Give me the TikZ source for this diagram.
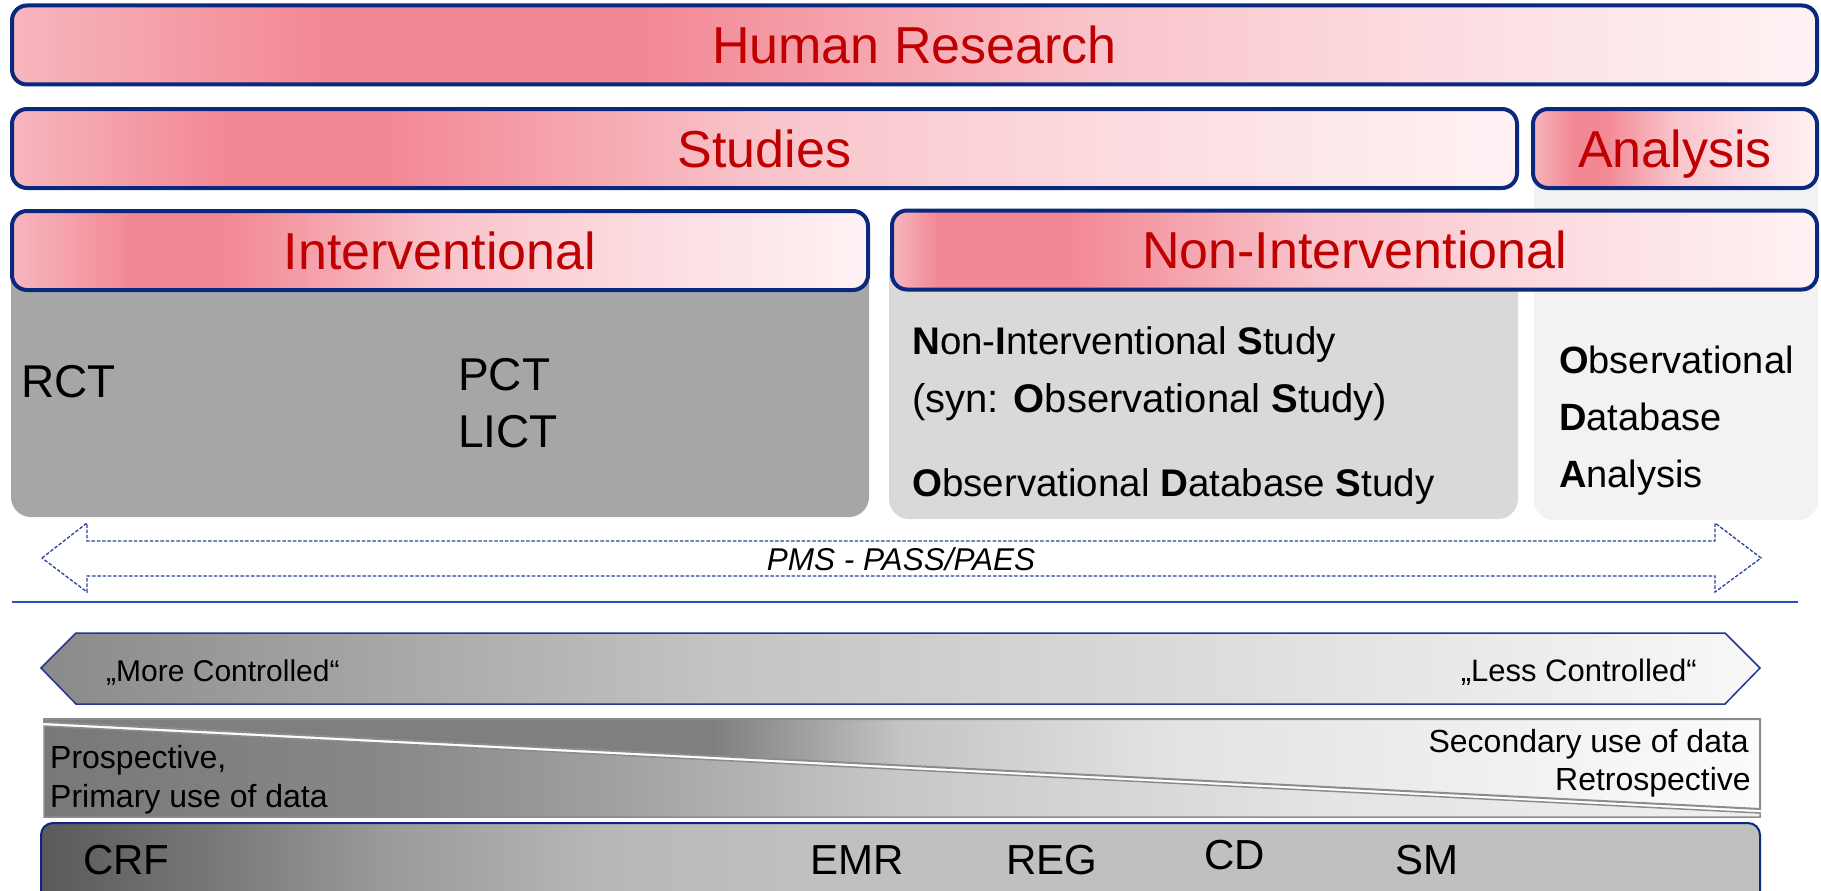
\documentclass[tikz,border=0pt]{standalone}
\usepackage{fontspec}
\setmainfont{Liberation Sans}
\definecolor{navy}{RGB}{10,40,125}
\definecolor{navytwo}{RGB}{30,55,150}
\definecolor{dashblue}{RGB}{40,65,160}
\definecolor{lineblue}{RGB}{40,80,190}
\definecolor{hred}{RGB}{192,0,0}
\definecolor{pkL}{RGB}{247,182,190}
\definecolor{pkP}{RGB}{242,136,148}
\definecolor{pkM}{RGB}{249,196,203}
\definecolor{pkN}{RGB}{252,222,226}
\definecolor{pkR}{RGB}{254,242,244}
\definecolor{gA}{RGB}{166,166,166}
\definecolor{gB}{RGB}{217,217,217}
\definecolor{gC}{RGB}{242,242,242}
\definecolor{cA}{RGB}{138,138,138}
\definecolor{cB}{RGB}{196,196,196}
\definecolor{cC}{RGB}{248,248,248}
\definecolor{uA}{RGB}{127,127,127}
\definecolor{uB}{RGB}{196,196,196}
\definecolor{uC}{RGB}{226,226,226}
\definecolor{uD}{RGB}{251,251,251}
\definecolor{lA}{RGB}{120,120,120}
\definecolor{lB}{RGB}{136,136,136}
\definecolor{lC}{RGB}{160,160,160}
\definecolor{lD}{RGB}{200,200,200}
\definecolor{lE}{RGB}{228,228,228}
\definecolor{lF}{RGB}{240,240,240}
\definecolor{bA}{RGB}{90,90,90}
\definecolor{bB}{RGB}{120,120,120}
\definecolor{bC}{RGB}{154,154,154}
\definecolor{bD}{RGB}{184,184,184}
\definecolor{bE}{RGB}{192,192,192}
\definecolor{edgegray}{RGB}{140,140,140}
\pgfdeclarehorizontalshading{pinkbar}{100bp}{color(0bp)=(pkL); color(25bp)=(pkL); color(32bp)=(pkP); color(37.5bp)=(pkP); color(50bp)=(pkM); color(63bp)=(pkN); color(75bp)=(pkR); color(100bp)=(pkR)}
\pgfdeclarehorizontalshading{pinkwide}{100bp}{color(0bp)=(pkL); color(25bp)=(pkL); color(33.5bp)=(pkP); color(42.5bp)=(pkP); color(55bp)=(pkM); color(65bp)=(pkN); color(75bp)=(pkR); color(100bp)=(pkR)}
\pgfdeclarehorizontalshading{pinkearly}{100bp}{color(0bp)=(pkL); color(25bp)=(pkL); color(27.5bp)=(pkP); color(34.5bp)=(pkP); color(48bp)=(pkM); color(62bp)=(pkN); color(75bp)=(pkR); color(100bp)=(pkR)}
\pgfdeclarehorizontalshading{ctrlsh}{100bp}{color(0bp)=(cA); color(25bp)=(cA); color(45bp)=(cB); color(75bp)=(cC); color(100bp)=(cC)}
\pgfdeclarehorizontalshading{upsh}{100bp}{color(0bp)=(uA); color(25bp)=(uA); color(44.5bp)=(uA); color(50bp)=(uB); color(57.5bp)=(uC); color(75bp)=(uD); color(100bp)=(uD)}
\pgfdeclarehorizontalshading{lowsh}{100bp}{color(0bp)=(lA); color(25bp)=(lA); color(35bp)=(lB); color(41.5bp)=(lC); color(50bp)=(lD); color(62.5bp)=(lE); color(75bp)=(lF); color(100bp)=(lF)}
\pgfdeclarehorizontalshading{btmsh}{100bp}{color(0bp)=(bA); color(25bp)=(bA); color(30bp)=(bB); color(35bp)=(bC); color(41.5bp)=(bD); color(47.5bp)=(bE); color(100bp)=(bE)}
\newcommand\myfs[1]{\fontsize{#1}{#1}\selectfont}
\begin{document}
\begin{tikzpicture}[x=1pt,y=-1pt,
  bar/.style={draw=navy, line width=4pt, rounded corners=15pt, shade, shading=pinkbar,
    minimum height=79pt, inner sep=0pt, text=hred, font=\myfs{52},
    text height=37.5pt, text depth=0pt},
  body/.style={rounded corners=20pt, inner sep=0pt},
  txt/.style={anchor=base west, inner sep=0pt, text=black},
  txtr/.style={anchor=base east, inner sep=0pt, text=black},
  pmsline/.style={draw=dashblue, line width=1.3pt, dash pattern=on 3.5pt off 1.8pt},
]
\fill[white] (0,0) rectangle (1821,891);
\useasboundingbox (0,0) rectangle (1821,891);

% grey bodies
\node[body, fill=gA, minimum width=858pt, minimum height=277pt] (intbody) at (440,378.5) {};
\node[body, fill=gB, minimum width=629pt, minimum height=279pt] (nibody) at (1203.5,379.5) {};
\node[body, fill=gC, minimum width=284pt, minimum height=370pt] (anbody) at (1676,335) {};

% header bars
\node[bar, shading=pinkwide, minimum width=1805pt] (hr) at (914.5,45) {Human Research};
\node[bar, minimum width=1505pt] (st) at (764.5,148.5) {Studies};
\node[bar, minimum width=284pt] (an) at (1675,148.5) {Analysis};
\node[bar, minimum width=856pt] (iv) at (440,250.5) {Interventional};
\node[bar, shading=pinkearly, minimum width=925pt] (ni) at (1354.5,250) {Non-Interventional};

% interventional texts
\node[txt, font=\myfs{46}] (rct) at (21,397) {RCT};
\node[txt, font=\myfs{46}] (pct) at (458,390) {PCT};
\node[txt, font=\myfs{46}] (lict) at (458,447) {LICT};

% non-interventional texts
\node[txt, font=\myfs{38.5}] (nis1) at (912,354) {\textbf{N}on-\textbf{I}nterventional \textbf{S}tudy};
\node[txt, font=\myfs{40}] (nis2) at (912,412) {(syn: \textbf{O}bservational \textbf{S}tudy)};
\node[txt, font=\myfs{38.5}] (ods) at (912,496) {\textbf{O}bservational \textbf{D}atabase \textbf{S}tudy};

% analysis texts
\node[txt, font=\myfs{38}] (oda1) at (1559,373) {\textbf{O}bservational};
\node[txt, font=\myfs{38}] (oda2) at (1559,430) {\textbf{D}atabase};
\node[txt, font=\myfs{38}] (oda3) at (1559,487) {\textbf{A}nalysis};

% PMS dashed double arrow
\draw[pmsline] (42,558) -- (87,523) -- (87,541) -- (1715,541) -- (1715,523) -- (1761,558)
  -- (1715,592) -- (1715,576) -- (87,576) -- (87,592) -- cycle;
\node[anchor=base, inner sep=0pt, font=\myfs{31.5}\itshape] (pms) at (901,570) {PMS - PASS/PAES};

% separator line
\draw[line width=2.5pt, lineblue] (12,602) -- (1798,602);

% controlled arrow
\draw[draw=navytwo, line width=1.5pt, shade, shading=ctrlsh]
  (41,668) -- (76,633) -- (1725,633) -- (1760,668) -- (1725,704) -- (76,704) -- cycle;
\node[txt, font=\myfs{30}] (more) at (106,681) {„More Controlled“};
\node[txtr, font=\myfs{31}] (less) at (1697,681) {„Less Controlled“};

% wedge
\draw[draw=edgegray, line width=2pt, shade, shading=upsh]
  (44,719) -- (1760,719) -- (1760,809) -- (44,722) -- cycle;
\draw[draw=edgegray, line width=1.5pt, shade, shading=lowsh]
  (44,726) -- (1760,813) -- (1760,817) -- (44,817) -- cycle;
\node[txt, font=\myfs{32}] (pro1) at (50,768) {Prospective,};
\node[txt, font=\myfs{32}] (pro2) at (50,807) {Primary use of data};
\node[txtr, font=\myfs{32}] (sec1) at (1749,752) {Secondary use of data};
\node[txtr, font=\myfs{32}] (sec2) at (1751,790) {Retrospective};

% data source box
\node[draw=navy, line width=2pt, rounded corners=12pt, shade, shading=btmsh,
  minimum width=1719pt, minimum height=100pt, inner sep=0pt] (dbox) at (900.5,873) {};
\node[txt, font=\myfs{42}] (crf) at (83,874) {CRF};
\node[txt, font=\myfs{42}] (emr) at (810,874) {EMR};
\node[txt, font=\myfs{42}] (reg) at (1006,874) {REG};
\node[txt, font=\myfs{42}] (cd) at (1204,869) {CD};
\node[txt, font=\myfs{42}] (sm) at (1395,874) {SM};
\end{tikzpicture}
\end{document}
